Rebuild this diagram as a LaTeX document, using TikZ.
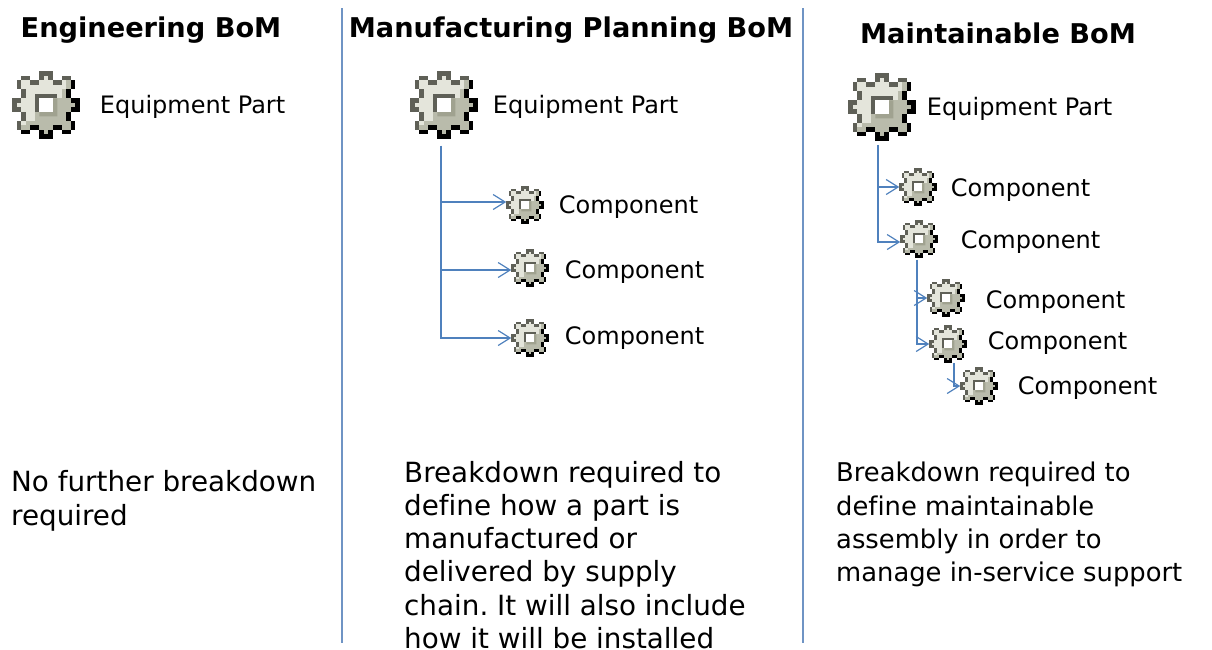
\documentclass[tikz,border=0pt]{standalone}
\usepackage{fontspec}
\setmainfont[Ligatures=NoCommon]{DejaVu Sans}
\frenchspacing
\usetikzlibrary{positioning,arrows.meta}
\definecolor{gearlight}{HTML}{E4E5DB}
\definecolor{gearmid}{HTML}{B9BBAB}
\definecolor{gearhole}{HTML}{A0A290}
\definecolor{geardark}{HTML}{5F6057}
\definecolor{linkblue}{HTML}{4F81BD}
\definecolor{rulegrey}{HTML}{6F94C4}
\newcommand{\gearpic}[1]{%
\begin{tikzpicture}[x=#1pt, y=-#1pt]
\useasboundingbox (0,0) rectangle (15,15);
\foreach \xa/\ya/\xb/\yb in {1/2/14/4,2/4/13/11,1/11/14/13,0/6/15/9,6/0/9/15,2/1/4/2,11/1/13/2,2/13/4/14,11/13/13/14}
  \fill[gearmid] (\xa,\ya) rectangle (\xb,\yb);
\foreach \xa/\ya/\xb/\yb in {7/1/8/2,2/2/12/4,3/4/11/6,1/6/5/9,3/9/5/11,2/11/3/12}
  \fill[gearlight] (\xa,\ya) rectangle (\xb,\yb);
\foreach \xa/\ya/\xb/\yb in {6/0/9/1,6/1/7/2,8/1/9/2,2/1/4/2,11/1/13/2,1/2/2/4,4/2/6/3,9/2/11/3,2/4/3/6,0/6/2/7,0/7/1/8,0/8/2/9,2/9/3/11,1/11/2/13,5/5/10/6,5/6/6/9}
  \fill[geardark] (\xa,\ya) rectangle (\xb,\yb);
\foreach \xa/\ya/\xb/\yb in {13/2/14/4,12/4/13/6,13/6/15/7,14/7/15/8,13/8/15/9,12/9/13/11,13/11/14/13,2/13/4/14,4/12/6/13,6/14/9/15,6/13/7/14,8/13/9/14,9/12/11/13,11/13/13/14}
  \fill[black] (\xa,\ya) rectangle (\xb,\yb);
\fill[gearhole] (9,6) rectangle (10,10) (6,9) rectangle (10,10);
\fill[white] (6,6) rectangle (9,9);
\end{tikzpicture}}
\begin{document}
\begin{tikzpicture}[x=1pt, y=-1pt, >={Straight Barb[length=12pt,width=15pt]},
  part/.style = {inner sep=0pt, outer sep=0pt},
  head/.style = {font=\fontsize{27.2}{30}\selectfont\bfseries, inner sep=0pt},
  parttext/.style = {font=\fontsize{24}{28}\selectfont, inner sep=0pt},
  note/.style = {font=\fontsize{27.8}{33.2}\selectfont, inner sep=0pt, align=left, anchor=north west},
  noteb/.style = {note, font=\fontsize{25.8}{33.2}\selectfont},
  conn/.style = {->, linkblue, line width=1.2pt},
  divider/.style = {rulegrey, line width=1.2pt}]
\useasboundingbox (0,0) rectangle (1212,649);
\node[head] (h1) at (151,30) {Engineering BoM};
\node[head] (h2) at (571,30) {Manufacturing Planning BoM};
\node[head] (h3) at (998,33) {Maintainable BoM};
\coordinate (d1) at (342,8);
\coordinate (d2) at (342,643);
\coordinate (d3) at (803,8);
\coordinate (d4) at (803,643);
\draw[divider] (d1) -- (d2);
\draw[divider] (d3) -- (d4);
\node[part] (1) at (46,105) {\gearpic{4.5}};
\node[part] (2) at (444,105) {\gearpic{4.5}};
\node[part] (3) at (882,107) {\gearpic{4.5}};
\node[part] (4) at (525,205) {\gearpic{2.5}};
\node[part] (5) at (530,268) {\gearpic{2.5}};
\node[part] (6) at (530,338) {\gearpic{2.5}};
\node[part] (7) at (918,187) {\gearpic{2.5}};
\node[part] (8) at (919,239) {\gearpic{2.5}};
\node[part] (9) at (946,298) {\gearpic{2.5}};
\node[part] (10) at (948,344) {\gearpic{2.5}};
\node[part] (11) at (979,386) {\gearpic{2.5}};
\node[parttext] (t1) [right=20pt of 1, yshift=-2pt] {Equipment Part};
\node[parttext] (t2) [right=15pt of 2, yshift=-2pt] {Equipment Part};
\node[parttext] (t3) [right=11pt of 3, yshift=-2pt] {Equipment Part};
\node[parttext] (t4) [right=15pt of 4, yshift=-2pt] {Component};
\node[parttext] (t5) [right=16pt of 5, yshift=-4pt] {Component};
\node[parttext] (t6) [right=16pt of 6] {Component};
\node[parttext] (t7) [right=14pt of 7, yshift=-3pt] {Component};
\node[parttext] (t8) [right=23pt of 8, yshift=-3pt] {Component};
\node[parttext] (t9) [right=21pt of 9, yshift=-4pt] {Component};
\node[parttext] (t10) [right=21pt of 10, yshift=1pt] {Component};
\node[parttext] (t11) [right=20pt of 11, yshift=-2pt] {Component};
\draw[conn, shorten <=7pt] ([xshift=-3pt]2.south) |- ([yshift=3pt]4.west);
\draw[conn, shorten <=7pt] ([xshift=-3pt]2.south) |- ([yshift=-2pt]5.west);
\draw[conn, shorten <=7pt] ([xshift=-3pt]2.south) |- (6.west);
\draw[conn, shorten <=4pt] ([xshift=-4pt]3.south) |- (7.west);
\draw[conn, shorten <=4pt] ([xshift=-4pt]3.south) |- ([yshift=-3pt]8.west);
\draw[conn, shorten <=2pt] ([xshift=-2pt]8.south) |- (9.west);
\draw[conn, shorten <=2pt] ([xshift=-2pt]8.south) |- (10.west);
\draw[conn] ([xshift=6pt]10.south) |- (11.west);
\node[note] (n1) at (11,470) {No further breakdown\\[0.8pt]required};
\node[note] (n2) at (404,461) {Breakdown required to\\define how a part is\\manufactured or\\delivered by supply\\chain. It will also include\\how it will be installed};
\node[noteb] (n3) at (836,462) {Breakdown required to\\define maintainable\\assembly in order to\\manage in-service support};
\end{tikzpicture}
\end{document}
